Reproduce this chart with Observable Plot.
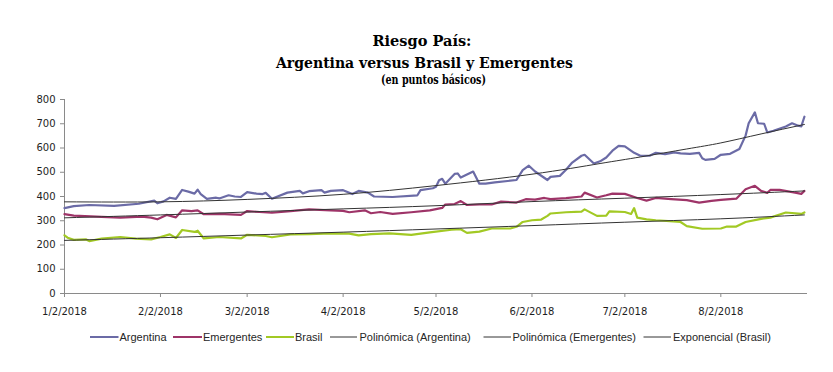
<!DOCTYPE html>
<html>
<head>
<meta charset="utf-8">
<script src="https://cdn.jsdelivr.net/npm/d3@7"></script>
<script src="https://cdn.jsdelivr.net/npm/@observablehq/plot@0.6"></script>
<style>
  html, body { margin: 0; padding: 0; background: #fff; }
  #wrap { width: 833px; height: 372px; overflow: hidden; }
  svg { display: block; }
</style>
</head>
<body>
<div id="wrap">
  <svg id="title" width="833" height="90">
    <text x="422" y="45.5" text-anchor="middle" font-family="DejaVu Serif" font-weight="bold" font-size="15" textLength="99" lengthAdjust="spacingAndGlyphs" fill="#000">Riesgo País:</text>
    <text x="424.5" y="67.5" text-anchor="middle" font-family="DejaVu Serif" font-weight="bold" font-size="15" textLength="297" lengthAdjust="spacingAndGlyphs" fill="#000">Argentina versus Brasil y Emergentes</text>
    <text x="433.5" y="83.5" text-anchor="middle" font-family="DejaVu Serif" font-weight="bold" font-size="12" textLength="105" lengthAdjust="spacingAndGlyphs" fill="#000">(en puntos básicos)</text>
  </svg>
  <div id="chart"></div>
  <svg id="legend" width="833" height="30"></svg>
</div>
<script>
// ---- Data ----
const argentinaDates = ["2018-01-02","2018-01-05","2018-01-10","2018-01-18","2018-01-26","2018-01-31","2018-02-01","2018-02-03","2018-02-05","2018-02-07","2018-02-09","2018-02-11","2018-02-13","2018-02-14","2018-02-15","2018-02-17","2018-02-20","2018-02-21","2018-02-24","2018-02-26","2018-02-28","2018-03-02","2018-03-05","2018-03-07","2018-03-08","2018-03-10","2018-03-15","2018-03-19","2018-03-20","2018-03-22","2018-03-26","2018-03-27","2018-03-29","2018-04-02","2018-04-05","2018-04-07","2018-04-10","2018-04-12","2018-04-18","2018-04-26","2018-04-27","2018-05-01","2018-05-02","2018-05-03","2018-05-04","2018-05-05","2018-05-08","2018-05-09","2018-05-10","2018-05-14","2018-05-16","2018-05-18","2018-05-21","2018-05-28","2018-05-30","2018-06-01","2018-06-03","2018-06-07","2018-06-08","2018-06-11","2018-06-13","2018-06-15","2018-06-18","2018-06-19","2018-06-22","2018-06-24","2018-06-26","2018-06-28","2018-06-30","2018-07-02","2018-07-05","2018-07-07","2018-07-10","2018-07-12","2018-07-15","2018-07-18","2018-07-20","2018-07-23","2018-07-26","2018-07-27","2018-07-28","2018-07-31","2018-08-02","2018-08-05","2018-08-08","2018-08-10","2018-08-11","2018-08-13","2018-08-14","2018-08-16","2018-08-17","2018-08-19","2018-08-23","2018-08-25","2018-08-27","2018-08-28","2018-08-29"];
const argentinaValues = [352,360,365,361,370,383,372,380,395,390,427,420,412,428,410,390,395,392,405,400,398,418,412,410,415,391,416,423,413,422,426,416,423,426,410,423,416,400,398,405,426,434,440,467,473,453,493,495,478,503,453,453,458,468,509,527,503,468,481,485,510,540,568,572,536,545,561,589,609,607,580,568,568,580,575,582,578,576,580,558,551,555,572,576,596,651,702,747,702,700,664,671,689,702,692,689,729];

const emergentesDates = ["2018-01-02","2018-01-05","2018-01-14","2018-01-20","2018-01-27","2018-01-30","2018-02-01","2018-02-04","2018-02-07","2018-02-09","2018-02-12","2018-02-14","2018-02-16","2018-02-21","2018-02-28","2018-03-02","2018-03-06","2018-03-10","2018-03-16","2018-03-22","2018-03-29","2018-04-02","2018-04-04","2018-04-09","2018-04-11","2018-04-14","2018-04-18","2018-04-24","2018-04-30","2018-05-04","2018-05-05","2018-05-08","2018-05-10","2018-05-12","2018-05-16","2018-05-20","2018-05-23","2018-05-28","2018-05-31","2018-06-03","2018-06-06","2018-06-08","2018-06-13","2018-06-18","2018-06-19","2018-06-23","2018-06-26","2018-06-28","2018-07-02","2018-07-06","2018-07-09","2018-07-12","2018-07-17","2018-07-22","2018-07-26","2018-07-30","2018-08-02","2018-08-07","2018-08-10","2018-08-13","2018-08-15","2018-08-17","2018-08-18","2018-08-21","2018-08-26","2018-08-28","2018-08-29"];
const emergentesValues = [327,321,316,313,317,313,306,324,314,343,340,343,327,328,324,340,336,333,340,347,343,341,335,343,331,336,328,335,343,353,367,369,381,365,367,367,379,375,389,387,394,389,393,400,416,396,405,412,411,394,383,394,389,385,375,382,386,391,430,444,423,415,427,427,416,411,423];

const brasilDates = ["2018-01-02","2018-01-03","2018-01-05","2018-01-09","2018-01-10","2018-01-14","2018-01-20","2018-01-25","2018-01-30","2018-02-02","2018-02-05","2018-02-07","2018-02-09","2018-02-13","2018-02-14","2018-02-16","2018-02-21","2018-02-28","2018-03-02","2018-03-08","2018-03-10","2018-03-16","2018-03-22","2018-03-29","2018-04-04","2018-04-07","2018-04-11","2018-04-17","2018-04-24","2018-04-30","2018-05-07","2018-05-10","2018-05-12","2018-05-16","2018-05-20","2018-05-26","2018-05-28","2018-05-30","2018-06-02","2018-06-05","2018-06-07","2018-06-08","2018-06-13","2018-06-18","2018-06-19","2018-06-23","2018-06-26","2018-06-27","2018-07-02","2018-07-04","2018-07-05","2018-07-06","2018-07-09","2018-07-12","2018-07-20","2018-07-22","2018-07-27","2018-08-02","2018-08-04","2018-08-07","2018-08-10","2018-08-15","2018-08-18","2018-08-23","2018-08-28","2018-08-29"];
const brasilValues = [240,230,221,223,216,226,233,226,223,233,244,229,262,254,259,227,233,227,242,237,232,244,245,248,247,240,245,248,242,252,263,265,250,255,268,268,275,295,302,305,320,330,335,338,347,320,321,339,336,328,352,313,306,302,295,278,267,268,276,276,295,308,313,334,328,334];

// Trendlines as drawn in the reference
const trendArgentinaDates = ["2018-01-02","2018-02-02","2018-03-02","2018-04-02","2018-05-02","2018-06-02","2018-06-24","2018-07-07","2018-07-22","2018-08-02","2018-08-15","2018-08-29"];
const trendArgentinaValues = [378,378,388,409,445,492,536,563,596,621,658,697];
const trendEmergentesDates = ["2018-01-02","2018-02-02","2018-03-02","2018-04-02","2018-05-02","2018-06-02","2018-07-02","2018-08-02","2018-08-29"];
const trendEmergentesValues = [312,324,336,349,362,379,393,408,423];
const trendBrasilDates = ["2018-01-02","2018-02-02","2018-03-02","2018-04-02","2018-05-02","2018-06-02","2018-07-02","2018-08-02","2018-08-29"];
const trendBrasilValues = [219,230,241,253,266,280,294,308,324];

const xTickDates = ["2018-01-02","2018-02-02","2018-03-02","2018-04-02","2018-05-02","2018-06-02","2018-07-02","2018-08-02"];
const yTicks = [0,100,200,300,400,500,600,700,800];
const xDomain = ["2018-01-02","2018-08-30"];

const seriesNames = ["Argentina","Emergentes","Brasil","Polinómica (Argentina)","Polinómica (Emergentes)","Exponencial (Brasil)"];
const seriesColors = ["#6b6ba6","#9e3468","#a2c924","#333333","#333333","#333333"];

// ---- Build ----
const parse = d3.utcParse("%Y-%m-%d");
const fmt = d3.utcFormat("%-m/%-d/%Y");
const rows = (dates, values) => dates.map((d, i) => ({date: parse(d), value: values[i]}));

const arg = rows(argentinaDates, argentinaValues);
const emg = rows(emergentesDates, emergentesValues);
const bra = rows(brasilDates, brasilValues);
const tArg = rows(trendArgentinaDates, trendArgentinaValues);
const tEmg = rows(trendEmergentesDates, trendEmergentesValues);
const tBra = rows(trendBrasilDates, trendBrasilValues);

const x0 = parse(xDomain[0]);
const chart = Plot.plot({
  width: 833,
  height: 233,
  marginTop: 9,
  marginBottom: 30,
  marginLeft: 64,
  marginRight: 26,
  style: {fontFamily: "DejaVu Sans", fontSize: "10px", color: "#1e1e1e", background: "#fff", overflow: "visible"},
  x: {type: "utc", domain: xDomain.map(parse)},
  y: {domain: [0, 800]},
  marks: [
    Plot.axisY({ticks: yTicks, tickSize: 4, tickPadding: 5, label: null, stroke: "#8a8a8a", fill: "#1e1e1e"}),
    Plot.axisX({ticks: xTickDates.map(parse), tickFormat: fmt, tickSize: 4, tickPadding: 10, label: null, stroke: "#8a8a8a", fill: "#1e1e1e"}),
    Plot.ruleY([0], {stroke: "#8a8a8a"}),
    Plot.ruleX([x0], {stroke: "#8a8a8a"}),
    Plot.line(arg, {x: "date", y: "value", stroke: seriesColors[0], strokeWidth: 2.2, strokeLinejoin: "round"}),
    Plot.line(emg, {x: "date", y: "value", stroke: seriesColors[1], strokeWidth: 2.2, strokeLinejoin: "round"}),
    Plot.line(bra, {x: "date", y: "value", stroke: seriesColors[2], strokeWidth: 2.2, strokeLinejoin: "round"}),
    Plot.line(tArg, {x: "date", y: "value", stroke: seriesColors[3], strokeWidth: 1, curve: "natural"}),
    Plot.line(tEmg, {x: "date", y: "value", stroke: seriesColors[4], strokeWidth: 1, curve: "natural"}),
    Plot.line(tBra, {x: "date", y: "value", stroke: seriesColors[5], strokeWidth: 1, curve: "natural"})
  ]
});
document.getElementById("chart").appendChild(chart);

// ---- Legend ----
const legendLayout = [
  {line: [90, 118.5], text: 119.5},
  {line: [173, 202], text: 203},
  {line: [266, 294], text: 295},
  {line: [330, 357], text: 359.5},
  {line: [483.5, 511], text: 512.5},
  {line: [643.5, 671], text: 673}
];
const lg = d3.select("#legend");
const ly = 14;
seriesNames.forEach((name, i) => {
  const L = legendLayout[i];
  lg.append("line")
    .attr("x1", L.line[0]).attr("x2", L.line[1])
    .attr("y1", ly).attr("y2", ly)
    .attr("stroke", seriesColors[i])
    .attr("stroke-width", i < 3 ? 2 : 1);
  lg.append("text")
    .attr("x", L.text).attr("y", ly + 4)
    .attr("font-family", "Liberation Sans, Arial, sans-serif")
    .attr("font-size", 11)
    .attr("fill", "#262626")
    .text(name);
});
</script>
</body>
</html>
